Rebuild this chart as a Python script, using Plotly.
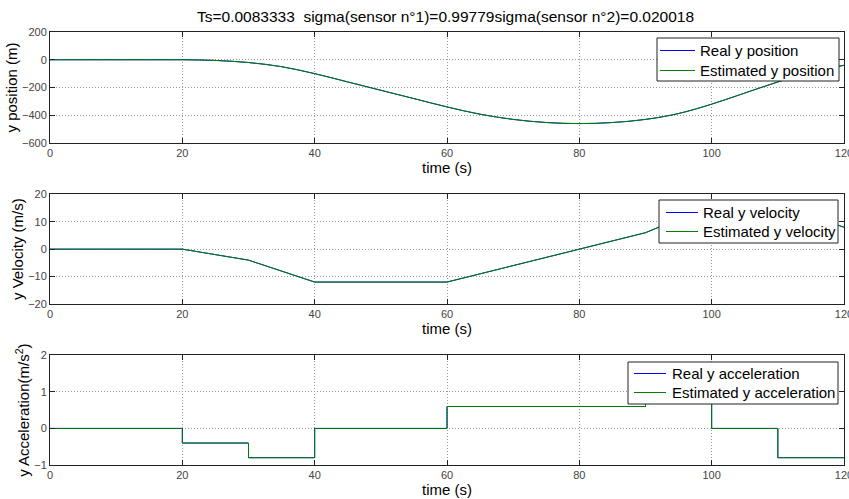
import plotly.graph_objects as go

# Time grid of the manoeuvre (s)
t_pos = [0, 5, 10, 15, 20, 25, 30, 35, 40, 45, 50, 55, 60, 65, 70, 75, 80,
         85, 90, 95, 100, 105, 110, 115, 120]
# y position (m)
y_pos = [0, 0, 0, 0, 0, -5, -20, -50, -100, -160, -220, -280, -340, -392.5,
         -430, -452.5, -460, -452.5, -430, -387.5, -320, -240, -160, -90, -40]

# Velocity knots (s, m/s)
t_vel = [0, 20, 30, 40, 60, 90, 100, 110, 120]
y_vel = [0, 0, -4, -12, -12, 6, 16, 16, 8]

# Acceleration steps (value holds from each start time to the next)
t_acc = [0, 20, 30, 40, 60, 90, 100, 110, 120]
y_acc = [0, -0.4, -0.8, 0, 0.6, 1.0, 0, -0.8, -0.8]

title_text = "Ts=0.0083333  sigma(sensor n°1)=0.99779sigma(sensor n°2)=0.020018"

BLUE = "#0000ff"
GREEN = "#008000"
FONT = "Liberation Sans, Arial, sans-serif"
H = 499.0
W = 849.0

fig = go.Figure()

panels = [
    (t_pos, y_pos, "position", "spline"),
    (t_vel, y_vel, "velocity", "linear"),
    (t_acc, y_acc, "acceleration", "hv"),
]

for i, (tx, vy, name, shape) in enumerate(panels, start=1):
    xa = "x" if i == 1 else f"x{i}"
    ya = "y" if i == 1 else f"y{i}"
    fig.add_trace(go.Scatter(x=tx, y=vy, mode="lines", name=f"Real y {name}",
                             line=dict(color=BLUE, width=1, shape=shape),
                             xaxis=xa, yaxis=ya))
    fig.add_trace(go.Scatter(x=tx, y=vy, mode="lines", name=f"Estimated y {name}",
                             line=dict(color=GREEN, width=1, shape=shape),
                             xaxis=xa, yaxis=ya))

xdom = [50 / W, 844 / W]
# (top px, bottom px) of each panel
rows = [(32, 143), (194.3, 304), (355.3, 465)]
yranges = [[-600, 200], [-20, 20], [-1, 2]]
ydticks = [200, 10, 1]
ytitles = ["y position (m)", "y Velocity (m/s)", "y Acceleration(m/s<sup>2</sup>)"]

common = dict(
    showline=True, linecolor="#222", linewidth=1, mirror="ticks",
    ticks="inside", ticklen=5, tickcolor="#222",
    showgrid=True, gridcolor="#999999", griddash="1px,2px", gridwidth=1,
    zeroline=False, ticklabeloverflow="allow", automargin=False,
    tickfont=dict(family=FONT, size=11, color="#444"),
)

layout_axes = {}
for i, ((top, bot), yr, dt, yt) in enumerate(zip(rows, yranges, ydticks, ytitles), start=1):
    xk = "xaxis" if i == 1 else f"xaxis{i}"
    yk = "yaxis" if i == 1 else f"yaxis{i}"
    xa = "x" if i == 1 else f"x{i}"
    ya = "y" if i == 1 else f"y{i}"
    layout_axes[xk] = dict(
        domain=xdom, range=[0, 120], tick0=0, dtick=20, anchor=ya,
        title=dict(text="time (s)", font=dict(family=FONT, size=15, color="#000"),
                   standoff=1),
        **common,
    )
    layout_axes[yk] = dict(
        domain=[(H - bot) / H, (H - top) / H], range=yr, tick0=yr[0], dtick=dt,
        anchor=xa,
        title=dict(text=yt, font=dict(family=FONT, size=15, color="#000"),
                   standoff=0),
        **common,
    )

# Boxed legends: (box left, top, right, bottom, line x0, line x1, text x, row1 y, row2 y)
legend_specs = [
    ("position", 657, 38, 839, 81, 660, 695, 698, 50.5, 70.5),
    ("velocity", 659, 200, 838, 243, 666, 698, 701, 212.5, 231.5),
    ("acceleration", 628, 362, 838, 404, 634, 666, 670, 373.5, 392.5),
]

shapes = []
annotations = []
for name, bl, bt, br, bb, lx0, lx1, tx0, r1, r2 in legend_specs:
    shapes.append(dict(type="rect", xref="paper", yref="paper",
                       x0=bl / W, x1=br / W, y0=(H - bb) / H, y1=(H - bt) / H,
                       fillcolor="white", line=dict(color="#222", width=1),
                       layer="above"))
    for ry, col, label in [(r1, BLUE, f"Real y {name}"),
                           (r2, GREEN, f"Estimated y {name}")]:
        shapes.append(dict(type="line", xref="paper", yref="paper",
                           x0=lx0 / W, x1=lx1 / W, y0=(H - ry) / H, y1=(H - ry) / H,
                           line=dict(color=col, width=1), layer="above"))
        annotations.append(dict(text=label, xref="paper", yref="paper",
                                x=tx0 / W, y=(H - ry) / H, xanchor="left",
                                yanchor="middle", showarrow=False,
                                font=dict(family=FONT, size=15, color="#000")))

fig.update_layout(
    width=849, height=499,
    margin=dict(l=0, r=0, t=0, b=0),
    paper_bgcolor="white", plot_bgcolor="white",
    title=dict(text=title_text, x=445.5 / W, xanchor="center", y=(H - 17) / H,
               yanchor="middle", font=dict(family=FONT, size=15.5, color="#000")),
    showlegend=False,
    shapes=shapes,
    annotations=annotations,
    **layout_axes,
)

fig.write_html("out.html")
